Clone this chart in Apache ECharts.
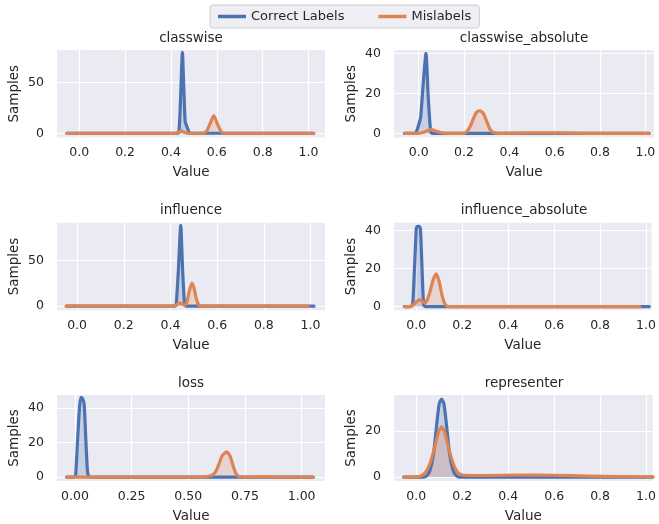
<!DOCTYPE html>
<html>
<head>
<meta charset="utf-8">
<script src="https://cdn.jsdelivr.net/npm/echarts@6/dist/echarts.min.js"></script>
<style>
  html, body { margin: 0; padding: 0; background: #fff; }
  #chart { width: 659px; height: 524px; }
</style>
</head>
<body>
<div id="chart"></div>
<script>
// KDE curves: [value, samples]
const classwiseCorrect = [[-0.054, 0], [0.42, 0], [0.434, 0.5], [0.442, 35], [0.45, 80], [0.456, 45], [0.462, 11.5], [0.467, 8.2], [0.474, 4], [0.482, 0], [1.023, 0]]
const classwiseMislabel = [[-0.054, 0], [0.42, 0], [0.432, 1], [0.444, 2.3], [0.456, 1.2], [0.47, 0], [0.54, 0], [0.555, 2], [0.57, 9], [0.587, 17.4], [0.603, 9], [0.618, 2], [0.633, 0], [1.023, 0]]

const classwiseAbsCorrect = [[-0.063, 0], [-0.02, 0], [-0.012, 0.3], [0.002, 5], [0.009, 8.5], [0.02, 25], [0.032, 40], [0.042, 18], [0.053, 0.5], [0.06, 0], [1.017, 0]]
const classwiseAbsMislabel = [[-0.06, 0], [0.0, 0], [0.02, 0.5], [0.04, 1.4], [0.057, 1.8], [0.075, 1.2], [0.1, 0.3], [0.13, 0], [0.19, 0], [0.21, 0.5], [0.225, 3], [0.24, 7], [0.255, 10.5], [0.27, 11.3], [0.285, 10], [0.3, 6], [0.315, 2], [0.332, 0.3], [0.36, 0], [0.5, 0.2], [0.6, 0.2], [0.75, 0], [1.017, 0]]

const influenceCorrect = [[-0.045, 0], [0.415, 0], [0.424, 1], [0.434, 40], [0.444, 88.8], [0.452, 40], [0.461, 1], [0.47, 0], [1.015, 0]]
const influenceMislabel = [[-0.047, 0], [0.41, 0], [0.425, 1.5], [0.438, 3.6], [0.45, 2.5], [0.463, 1], [0.472, 6], [0.482, 18], [0.492, 25.5], [0.501, 20], [0.51, 9], [0.519, 2.5], [0.528, 0], [0.99, 0]]

const influenceAbsCorrect = [[-0.052, 0], [-0.025, 0], [-0.016, 1], [-0.008, 20], [0.0, 41], [0.004, 42.3], [0.012, 42.3], [0.018, 41], [0.025, 20], [0.032, 1], [0.04, 0], [1.014, 0]]
const influenceAbsMislabel = [[-0.05, 0], [-0.03, 0], [-0.015, 0.8], [0.0, 2.5], [0.015, 3.7], [0.028, 2.6], [0.037, 1.9], [0.048, 3.5], [0.06, 8], [0.073, 14], [0.087, 17.2], [0.1, 13], [0.112, 6], [0.122, 2], [0.133, 0.3], [0.15, 0], [0.973, 0]]

const lossCorrect = [[-0.037, 0], [-0.005, 0], [0.003, 1], [0.012, 22], [0.02, 40], [0.026, 46.3], [0.034, 45.5], [0.041, 42], [0.048, 22], [0.055, 4], [0.06, 0.5], [0.07, 0], [1.051, 0]]
const lossMislabel = [[-0.037, 0], [0.55, 0], [0.58, 0.3], [0.603, 1], [0.62, 3], [0.635, 7.5], [0.65, 12.5], [0.669, 14.6], [0.685, 12], [0.7, 5.5], [0.712, 1.5], [0.725, 0.3], [0.76, 0], [0.83, 0.2], [0.9, 0], [1.051, 0]]

const representerCorrect = [[-0.055, 0], [0.03, 0], [0.045, 0.5], [0.06, 3], [0.075, 10], [0.09, 24], [0.1, 32], [0.11, 33.9], [0.12, 32], [0.13, 24], [0.145, 10], [0.16, 3], [0.175, 0.5], [0.19, 0], [1.03, 0]]
const representerMislabel = [[-0.055, 0], [0.0, 0.1], [0.02, 0.5], [0.04, 2], [0.06, 6], [0.08, 13], [0.095, 19], [0.11, 21.9], [0.125, 19], [0.14, 13], [0.16, 6], [0.18, 2], [0.2, 0.9], [0.3, 0.7], [0.45, 0.9], [0.6, 0.8], [0.75, 0.4], [0.9, 0.2], [1.03, 0.1]]

const titles = ['classwise', 'classwise_absolute', 'influence', 'influence_absolute', 'loss', 'representer']
const seriesNames = ['Correct Labels', 'Mislabels']

const xTicksTenths = [0, 0.2, 0.4, 0.6, 0.8, 1.0]
const xTicksQuarters = [0, 0.25, 0.5, 0.75, 1.0]
const xTicks = [xTicksTenths, xTicksTenths, xTicksTenths, xTicksTenths, xTicksQuarters, xTicksTenths]
const xDecimals = [1, 1, 1, 1, 2, 1]
const xRanges = [[-0.097, 1.072], [-0.109, 1.038], [-0.086, 1.062], [-0.097, 1.024], [-0.079, 1.103], [-0.097, 1.029]]

const yTicks = [[0, 50], [0, 20, 40], [0, 50], [0, 20, 40], [0, 20, 40], [0, 20]]
const yRanges = [[-4.2, 82.3], [-2.1, 41.7], [-4.4, 91.7], [-1.9, 44.2], [-2.3, 47.6], [-1.7, 35.7]]

const curves = [
  [classwiseCorrect, classwiseMislabel],
  [classwiseAbsCorrect, classwiseAbsMislabel],
  [influenceCorrect, influenceMislabel],
  [influenceAbsCorrect, influenceAbsMislabel],
  [lossCorrect, lossMislabel],
  [representerCorrect, representerMislabel],
]

const colors = ['#4C72B0', '#DD8452']
const font = 'DejaVu Sans'
const ink = '#262626'

// layout: 3 rows x 2 cols
const colLeft = [57, 394]
const colWidth = [268, 260]
const rowTop = [50, 222.7, 395]
const plotHeight = 87.5

const chart = echarts.init(document.getElementById('chart'))

const grid = [], xAxis = [], yAxis = [], title = [], series = []
titles.forEach((t, i) => {
  const r = Math.floor(i / 2), c = i % 2
  grid.push({
    left: colLeft[c], top: rowTop[r], width: colWidth[c], height: plotHeight,
    show: true, backgroundColor: '#EAEAF2', borderWidth: 0,
  })
  title.push({
    text: t, left: colLeft[c] + colWidth[c] / 2, top: rowTop[r] - 19, textAlign: 'center', padding: 0,
    textStyle: { fontFamily: font, fontSize: 13.5, fontWeight: 'normal', color: ink },
  })
  xAxis.push({
    type: 'value', gridIndex: i, min: xRanges[i][0], max: xRanges[i][1],
    axisLine: { show: false },
    axisTick: { show: false, customValues: xTicks[i] },
    axisLabel: {
      customValues: xTicks[i], formatter: (v) => v.toFixed(xDecimals[i]),
      fontFamily: font, fontSize: 12.5, color: ink, margin: 9,
    },
    splitLine: { show: true, lineStyle: { color: '#ffffff', width: 1.2 } },
    name: 'Value', nameLocation: 'middle', nameGap: 28,
    nameTextStyle: { fontFamily: font, fontSize: 13.5, color: ink },
  })
  yAxis.push({
    type: 'value', gridIndex: i, min: yRanges[i][0], max: yRanges[i][1],
    axisLine: { show: false },
    axisTick: { show: false, customValues: yTicks[i] },
    axisLabel: {
      customValues: yTicks[i], fontFamily: font, fontSize: 12.5, color: ink, margin: 13,
    },
    splitLine: { show: true, lineStyle: { color: '#ffffff', width: 1.2 } },
    name: 'Samples', nameLocation: 'middle', nameGap: 36,
    nameTextStyle: { fontFamily: font, fontSize: 13.5, color: ink },
  })
  curves[i].forEach((pts, k) => {
    series.push({
      name: seriesNames[k], type: 'line', xAxisIndex: i, yAxisIndex: i,
      data: pts, showSymbol: false, symbol: 'none', smooth: 0.2,
      lineStyle: { color: colors[k], width: 3.2, join: 'round', cap: 'round' },
      itemStyle: { color: colors[k] },
      areaStyle: { color: colors[k], opacity: 0.22 },
    })
  })
})

chart.setOption({
  animation: false,
  title,
  legend: {
    top: 5, left: 210, itemWidth: 28, itemHeight: 3.5, itemGap: 34,
    padding: [5, 8], backgroundColor: '#EEEEF4', borderColor: '#CCCCCC', borderWidth: 1, borderRadius: 3,
    data: seriesNames.map((n) => ({ name: n, icon: 'rect' })),
    textStyle: { fontFamily: font, fontSize: 13, color: ink },
  },
  grid, xAxis, yAxis, series,
})
</script>
</body>
</html>
